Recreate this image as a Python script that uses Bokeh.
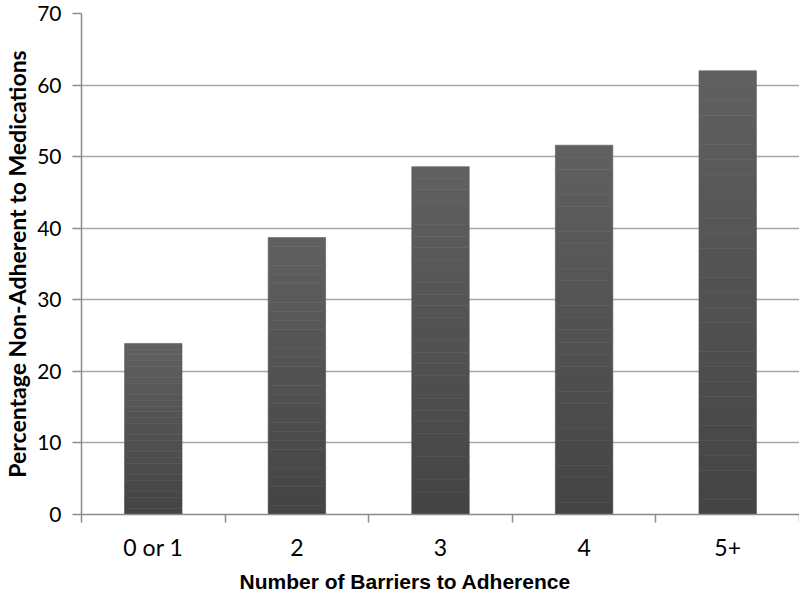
from bokeh.plotting import figure
from bokeh.models import FixedTicker, Range1d, ColumnDataSource, Title
from bokeh.embed import file_html
from bokeh.resources import INLINE

categories = ["0 or 1", "2", "3", "4", "5+"]
values = [23.9, 38.7, 48.6, 51.6, 62.0]
y_ticks = [0, 10, 20, 30, 40, 50, 60, 70]
x_title = "Number of Barriers to Adherence"
y_title = "Percentage Non-Adherent to Medications"

FONT = "Lato"

p = figure(output_backend="svg", toolbar_location=None,
           x_range=Range1d(0, len(categories)), y_range=Range1d(0, 70),
           frame_width=718, frame_height=501,
           min_border_left=75, min_border_right=0, min_border_top=13, min_border_bottom=40)
p.outline_line_color = None
p.background_fill_color = "white"

# gradient bars built from slices of each value
N = 30
xs, bots, tops, cols = [], [], [], []
c_bot = (0x44, 0x44, 0x44)
c_top = (0x60, 0x60, 0x60)
for i, v in enumerate(values):
    for k in range(N):
        t = (k + 0.5) / N
        r = [round(c_bot[j] + (c_top[j] - c_bot[j]) * t) for j in range(3)]
        xs.append(i + 0.5)
        bots.append(v * k / N)
        tops.append(v * (k + 1) / N)
        cols.append("#%02x%02x%02x" % tuple(r))
src = ColumnDataSource(dict(x=xs, bottom=bots, top=tops, color=cols))
p.vbar(x="x", bottom="bottom", top="top", width=0.4, fill_color="color",
       line_color="color", line_width=0.6, source=src)

# x axis: labels at centres, tick marks at boundaries
xa = p.xaxis[0]
xa.ticker = FixedTicker(ticks=[i + 0.5 for i in range(len(categories))],
                        minor_ticks=list(range(len(categories) + 1)))
xa.major_label_overrides = {i + 0.5: c for i, c in enumerate(categories)}
xa.major_tick_line_color = None
xa.minor_tick_in = 0
xa.minor_tick_out = 8
xa.minor_tick_line_color = "#8c8c8c"
xa.minor_tick_line_width = 1.5
xa.axis_line_color = "#8c8c8c"
xa.axis_line_width = 1.5
xa.major_label_text_font = FONT
xa.major_label_text_font_size = "23px"
xa.major_label_text_color = "black"
xa.major_label_standoff = 10

# x title (left-anchored so it sits left of the frame centre, as in the reference)
p.add_layout(Title(text=x_title, align="left", offset=158, vertical_align="middle",
                   standoff=10, text_font="Liberation Sans", text_font_style="bold",
                   text_font_size="21px", text_color="black"), "below")

ya = p.yaxis[0]
ya.ticker = FixedTicker(ticks=y_ticks, minor_ticks=[])
ya.major_tick_in = 0
ya.major_tick_out = 9
ya.major_tick_line_color = "#8c8c8c"
ya.major_tick_line_width = 1.5
ya.axis_line_color = "#8c8c8c"
ya.axis_line_width = 1.5
ya.major_label_text_font = FONT
ya.major_label_text_font_size = "21px"
ya.major_label_text_color = "black"
ya.major_label_standoff = 11
ya.axis_label = y_title
ya.axis_label_text_font = FONT
ya.axis_label_text_font_style = "bold"
ya.axis_label_text_font_size = "23px"
ya.axis_label_text_color = "black"
ya.axis_label_standoff = 3

p.xgrid.grid_line_color = None
p.ygrid.ticker = FixedTicker(ticks=y_ticks)
p.ygrid.grid_line_color = "#a6a6a6"
p.ygrid.grid_line_width = 1.5

open("out.html", "w").write(file_html(p, INLINE))
